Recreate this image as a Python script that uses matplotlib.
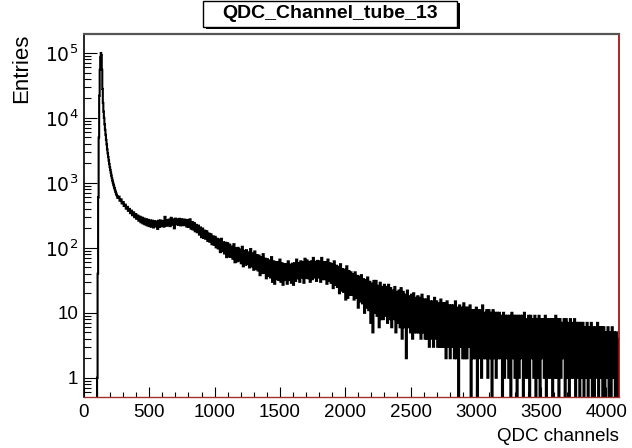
import matplotlib
matplotlib.use("Agg")
import matplotlib.pyplot as plt
from matplotlib.patches import Rectangle
import numpy as np

plt.rcParams['font.family'] = ['Liberation Sans', 'DejaVu Sans']

# counts
# 4 channel bins around the pedestal peak, channel 96 to 256
peak_counts = [0, 1, 40, 600, 5000, 22000, 55000, 85000, 100000, 92000,
               55000, 28000, 17000, 12500, 10000, 8000, 6600, 5500, 4600, 3900,
               3300, 2850, 2500, 2200, 1950, 1750, 1580, 1430, 1300, 1190,
               1090, 1010, 940, 880, 825, 775, 730, 690, 655, 625]

# channel 256 to 4096 in 16 channel steps: lowest and highest channel count
# seen in each step (the noise band of the spectrum), one row = 256 channels
band_low = [
    586, 532, 484, 441, 402, 372, 342, 318, 297, 280, 262, 248, 238, 230, 222, 216,
    212, 206, 214, 196, 210, 218, 212, 220, 222, 216, 228, 200, 230, 226, 222, 224,
    224, 212, 210, 198, 192, 180, 174, 160, 146, 142, 138, 128, 124, 114, 112, 102,
    98, 86, 89, 82, 72, 74, 73, 68, 60, 62, 64, 58, 52, 55, 56, 50,
    52, 46, 48, 45, 38, 41, 41, 34, 37, 35, 30, 28, 33, 32, 30, 27,
    32, 28, 32, 29, 27, 31, 34, 30, 35, 29, 35, 34, 30, 33, 35, 31,
    35, 30, 33, 33, 28, 31, 29, 24, 27, 25, 20, 22, 21, 16, 17, 19,
    19, 16, 17, 12, 15, 14, 10, 12, 11, 7, 5, 10, 9, 6, 8, 8,
    9, 7, 8, 6, 8, 5, 7, 6, 4, 6, 2, 6, 5, 4, 5, 5,
    5, 4, 5, 4, 4, 3, 4, 3, 4, 3, 3, 3, 3, 2, 3, 2,
    3, 2, 2, 0, 3, 2, 2, 2, 3, 0, 2, 2, 0, 2, 1, 2,
    2, 1, 2, 0, 2, 1, 2, 2, 0, 1, 2, 1, 0, 2, 1, 0,
    1, 2, 0, 1, 1, 0, 2, 1, 0, 1, 0, 2, 1, 0, 1, 1,
    0, 1, 1, 0, 1, 2, 0, 1, 0, 1, 1, 0, 1, 0, 1, 0,
    1, 0, 1, 0, 0, 1, 0, 1, 0, 0, 1, 0, 0, 1, 0, 0,
]
band_high = [
    614, 558, 508, 463, 428, 398, 374, 352, 331, 314, 302, 292, 282, 276, 270, 264,
    262, 258, 254, 262, 264, 258, 300, 266, 272, 290, 274, 282, 276, 280, 274, 272,
    270, 268, 275, 250, 242, 226, 220, 206, 198, 184, 180, 166, 162, 150, 148, 138,
    134, 138, 122, 120, 118, 112, 104, 114, 98, 100, 94, 104, 90, 92, 85, 96,
    82, 88, 77, 76, 72, 80, 68, 67, 64, 72, 62, 60, 60, 66, 58, 56,
    56, 62, 55, 57, 58, 66, 58, 62, 60, 68, 64, 60, 62, 70, 61, 63,
    62, 70, 60, 60, 66, 58, 56, 62, 53, 51, 56, 47, 46, 52, 44, 42,
    39, 42, 37, 36, 38, 33, 32, 35, 30, 28, 31, 31, 26, 29, 25, 27,
    25, 27, 24, 22, 25, 21, 22, 24, 21, 19, 22, 18, 19, 20, 17, 18,
    17, 19, 16, 16, 18, 15, 15, 17, 15, 14, 16, 14, 14, 15, 13, 13,
    13, 15, 12, 13, 12, 14, 12, 12, 13, 11, 11, 12, 11, 11, 13, 10,
    11, 11, 10, 11, 10, 10, 10, 9, 10, 9, 9, 9, 10, 9, 9, 9,
    9, 9, 10, 8, 9, 9, 8, 9, 8, 9, 8, 8, 9, 8, 8, 8,
    8, 9, 8, 8, 7, 8, 8, 7, 8, 7, 8, 7, 7, 7, 7, 6,
    7, 6, 7, 6, 6, 7, 6, 6, 6, 5, 6, 5, 6, 5, 5, 4,
]

x_ticks = [0, 500, 1000, 1500, 2000, 2500, 3000, 3500, 4000]
y_ticks = [1, 10, 100, 1000, 10000, 100000]
y_labels = ['1', '10', '$10^{2}$', '$10^{3}$', '$10^{4}$', '$10^{5}$']

# every 16 channel step is drawn as a low and a high 8 channel bin
band = np.column_stack([band_low, band_high]).ravel()
edges = np.concatenate([np.arange(96, 256, 4), np.arange(256, 4097, 8)])
counts = np.concatenate([np.array(peak_counts, dtype=float), band.astype(float)])

fig = plt.figure(figsize=(6.32, 4.48), dpi=100)
ax = fig.add_axes([84 / 632, 1 - 397 / 448, 535 / 632, 363 / 448])

ax.stairs(counts, edges, color='black', linewidth=1.5, baseline=None)
ax.set_yscale('log', nonpositive='clip')
ax.set_xlim(0, 4096)

ax.set_xticks(x_ticks)
ax.set_xticks(np.arange(0, 4097, 100), minor=True)
ax.set_yticks(y_ticks)
ax.set_yticklabels(y_labels)
y_minor = [m * 10.0 ** d for d in range(-1, 6) for m in range(2, 10)]
ax.set_yticks(y_minor, minor=True)
ax.set_yticklabels([], minor=True)
ax.set_ylim(0.506, 1.96e5)

ax.tick_params(axis='both', which='both', direction='in', labelsize=13.5, colors='black')
ax.tick_params(axis='x', which='major', length=7.2, width=0.8, pad=5)
ax.tick_params(axis='x', which='minor', length=3.6, width=0.8)
ax.tick_params(axis='y', which='major', length=9.4, width=0.8, pad=4)
ax.tick_params(axis='y', which='minor', length=5, width=0.8)

ax.spines['top'].set_color('#555555')
ax.spines['top'].set_linewidth(1.6)
ax.spines['left'].set_color('black')
ax.spines['left'].set_linewidth(1.2)
ax.spines['right'].set_color('#a00000')
ax.spines['right'].set_linewidth(1.2)
ax.spines['bottom'].set_color('#a03030')
ax.spines['bottom'].set_linewidth(1.0)

ax.set_xlabel('QDC channels', fontsize=13.5, loc='right', labelpad=5)
ax.set_ylabel('Entries', fontsize=16, loc='top', labelpad=9)

# title box with a shadow, ROOT style
fig.patches.append(Rectangle((206 / 632, 1 - 29 / 448), 254 / 632, 26 / 448,
                             transform=fig.transFigure, facecolor='black',
                             edgecolor='none'))
fig.patches.append(Rectangle((203 / 632, 1 - 27 / 448), 254 / 632, 26 / 448,
                             transform=fig.transFigure, facecolor='white',
                             edgecolor='black', linewidth=1.0))
fig.text(330 / 632, 1 - 14 / 448, 'QDC_Channel_tube_13', ha='center', va='center',
         fontsize=14, fontweight='bold')

fig.savefig('out.png', dpi=100)
